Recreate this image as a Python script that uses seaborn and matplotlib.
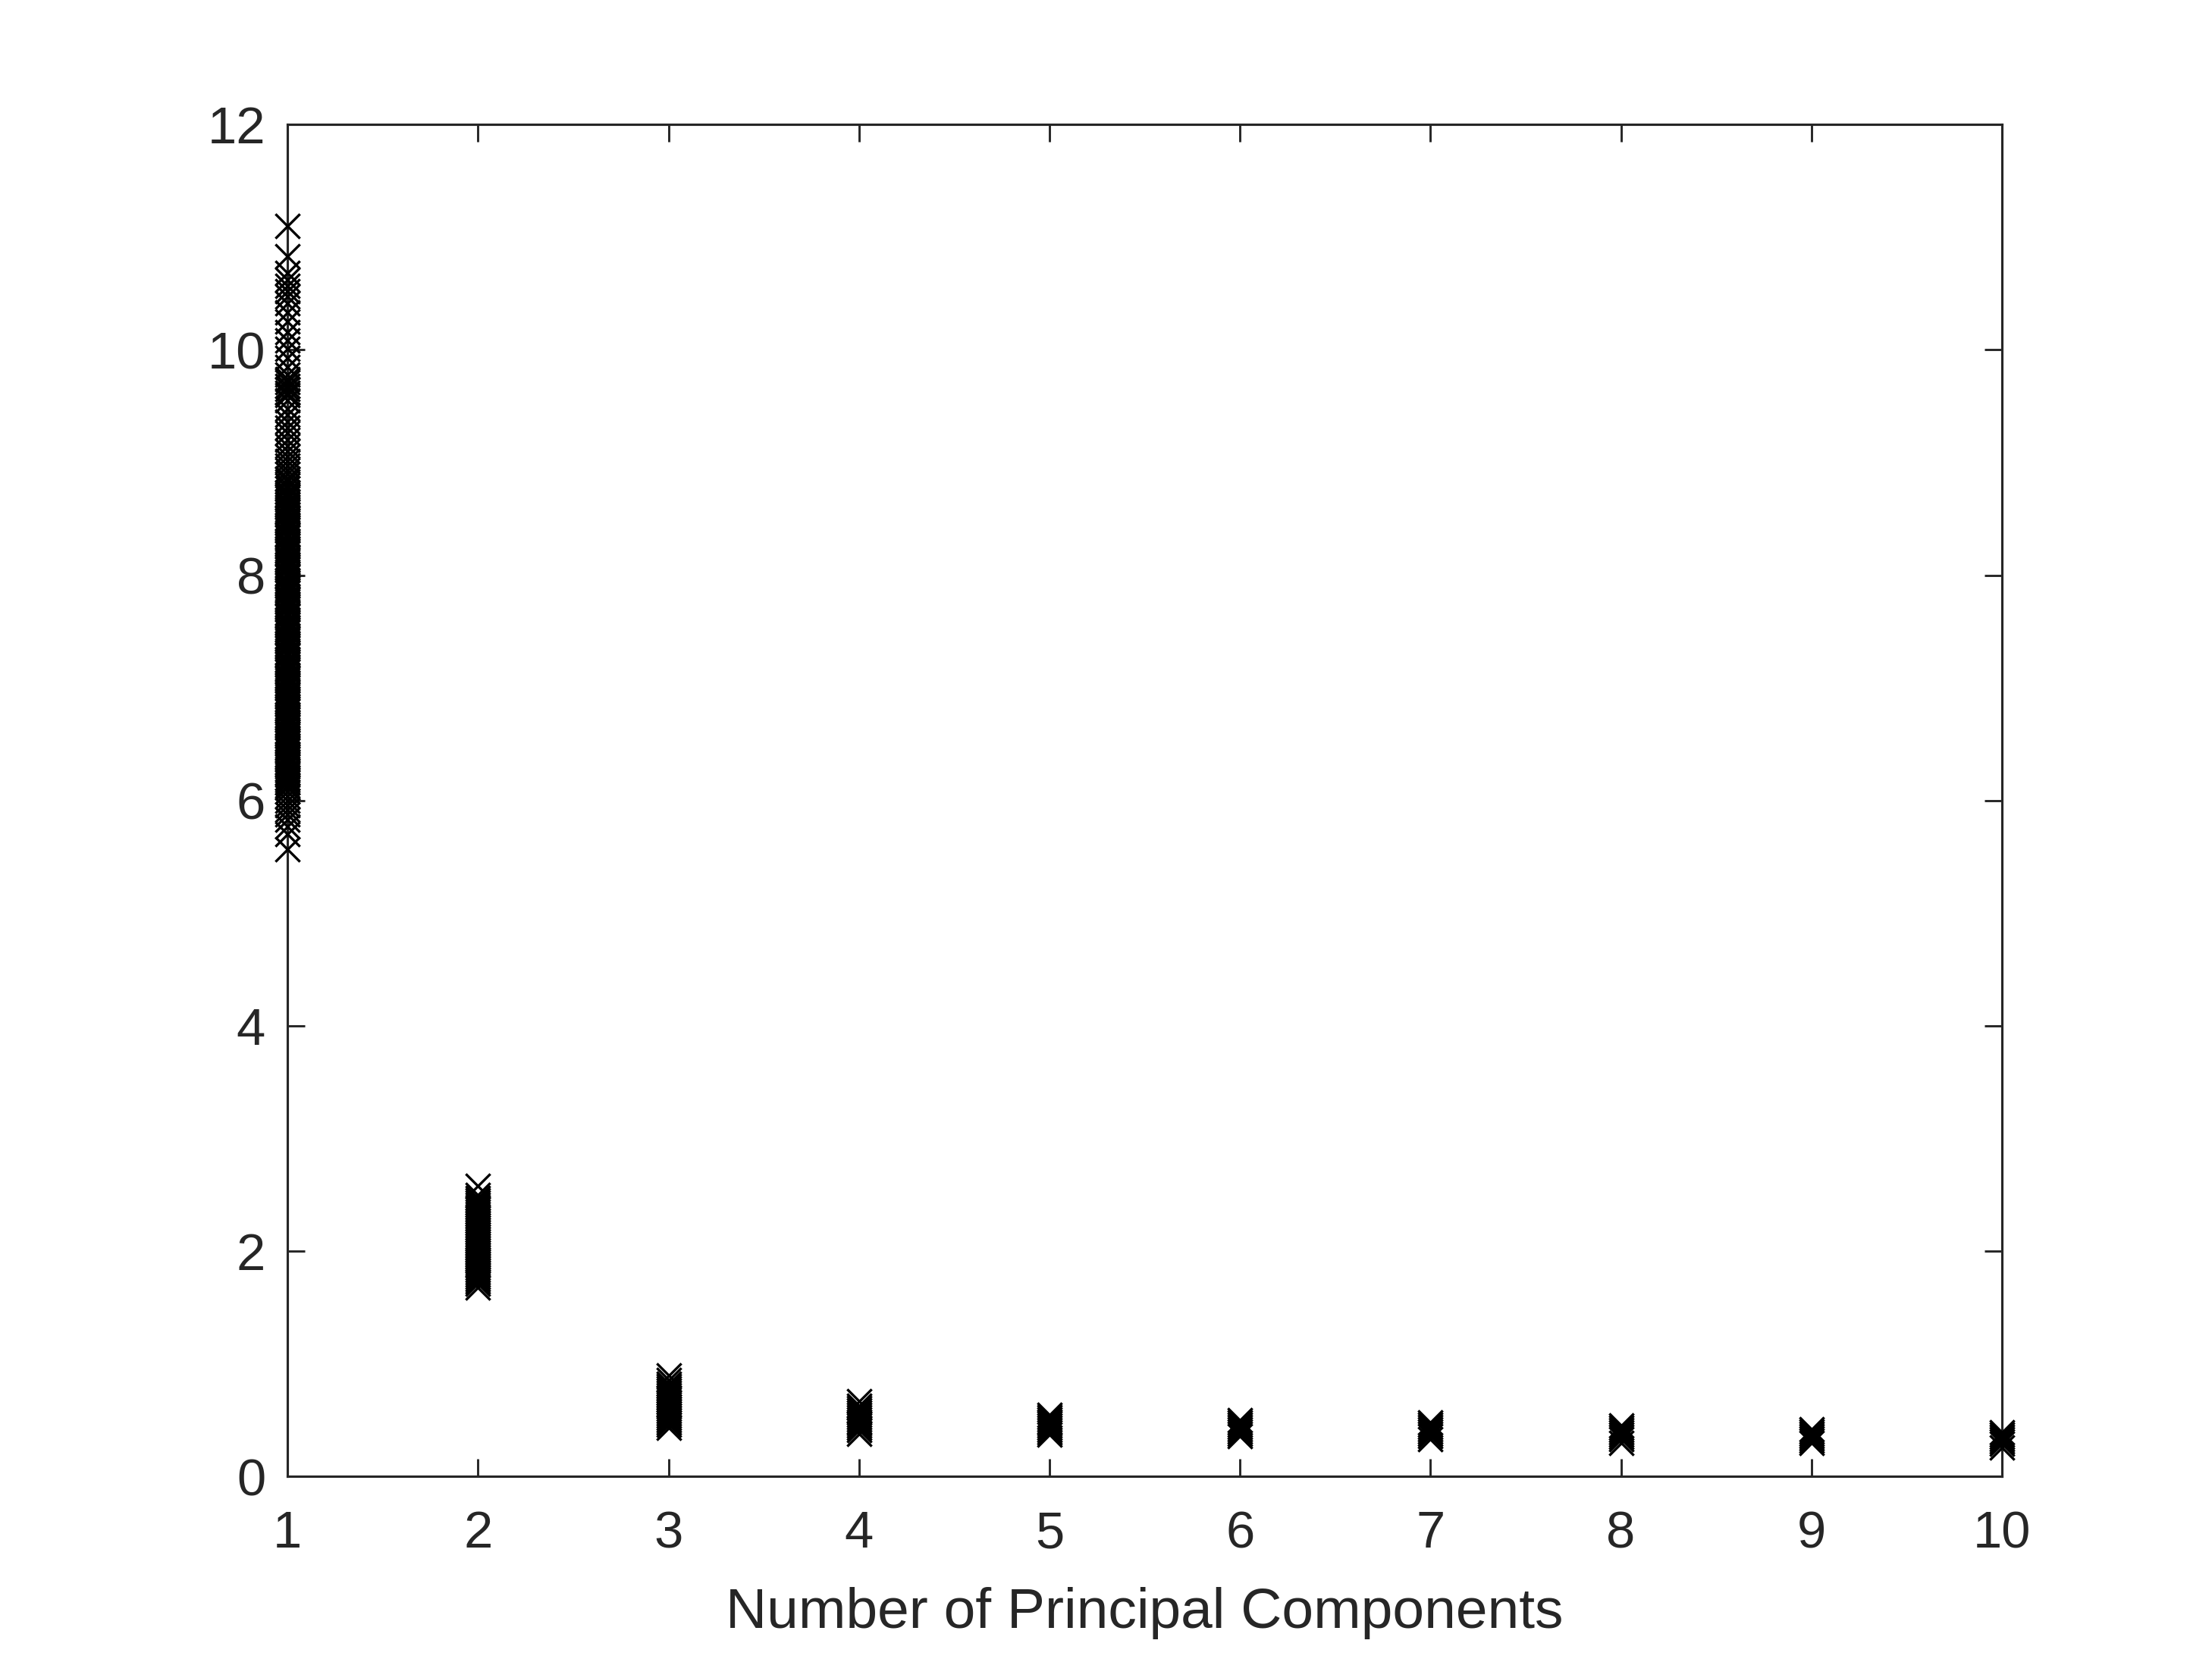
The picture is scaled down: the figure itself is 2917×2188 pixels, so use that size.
# Eigenvalue spread per principal component (scree-style scatter)
import matplotlib

matplotlib.use("Agg")
import matplotlib.pyplot as plt
import numpy as np
import pandas as pd
import seaborn as sns

# %% DATA
pc_labels = [1, 2, 3, 4, 5, 6, 7, 8, 9, 10]

pc1 = [
    11.10, 10.83, 10.68, 10.62, 10.57, 10.52, 10.47, 10.41, 10.33, 10.25,
    10.16, 10.08, 10.01, 9.93, 9.85, 9.78, 9.74, 9.71, 9.68, 9.65, 9.62,
    9.60, 9.55, 9.48, 9.42, 9.36, 9.31, 9.26, 9.20, 9.15, 9.10, 9.05, 9.01,
    8.97, 8.93, 8.90, 8.86, 8.83, 8.80, 8.77, 8.74,
    8.72, 8.70, 8.68, 8.65, 8.63, 8.61, 8.58, 8.56, 8.54, 8.51, 8.49, 8.47,
    8.44, 8.42, 8.40, 8.37, 8.35, 8.33, 8.30, 8.28, 8.26, 8.23, 8.21, 8.19,
    8.16, 8.14, 8.12, 8.09, 8.07, 8.05, 8.02, 8.00, 7.98, 7.95, 7.93, 7.91,
    7.88, 7.86, 7.84, 7.81, 7.79, 7.77, 7.74, 7.72, 7.70, 7.67, 7.65, 7.63,
    7.60, 7.58, 7.56, 7.53, 7.51, 7.49, 7.46, 7.44, 7.42, 7.39, 7.37, 7.35,
    7.32, 7.30, 7.28, 7.25, 7.23, 7.21, 7.18, 7.16, 7.14, 7.11, 7.09, 7.07,
    7.04, 7.02, 7.00, 6.97, 6.95, 6.93, 6.90, 6.88, 6.86, 6.83, 6.81, 6.79,
    6.76, 6.74, 6.72, 6.69, 6.67, 6.65, 6.62, 6.60, 6.58, 6.55, 6.53, 6.51,
    6.48, 6.46, 6.44, 6.41, 6.39, 6.37, 6.34, 6.32, 6.30, 6.27, 6.25, 6.23,
    6.20, 6.18, 6.16, 6.13, 6.11,
    6.08, 6.04, 6.00, 5.96, 5.92, 5.88, 5.83, 5.77, 5.70, 5.57,
]
pc2 = [
    2.58, 2.50, 2.47, 2.45, 2.43, 2.41, 2.39, 2.37, 2.35, 2.33, 2.31, 2.29,
    2.27, 2.25, 2.23, 2.21, 2.19, 2.17, 2.15, 2.13, 2.11, 2.09, 2.07, 2.05,
    2.03, 2.01, 1.99, 1.97, 1.95, 1.93, 1.91, 1.89, 1.87, 1.85, 1.83, 1.81,
    1.79, 1.77, 1.75, 1.73, 1.71, 1.68,
]
pc3 = [
    0.90, 0.86, 0.82, 0.80, 0.78, 0.76, 0.74, 0.72, 0.70, 0.68, 0.66, 0.64,
    0.62, 0.60, 0.58, 0.56, 0.54, 0.52, 0.50, 0.48, 0.46, 0.43,
]
pc4 = [0.67, 0.63, 0.61, 0.59, 0.57, 0.55, 0.53, 0.51, 0.49, 0.47, 0.45, 0.43, 0.41, 0.38]
pc5 = [0.55, 0.53, 0.51, 0.49, 0.47, 0.45, 0.43, 0.41, 0.39, 0.37]
pc6 = [0.50, 0.48, 0.46, 0.44, 0.42, 0.40, 0.38, 0.36]
pc7 = [0.48, 0.46, 0.44, 0.42, 0.40, 0.38, 0.36, 0.33]
pc8 = [0.45, 0.43, 0.41, 0.39, 0.37, 0.35, 0.33, 0.30]
pc9 = [0.42, 0.40, 0.38, 0.36, 0.34, 0.32, 0.30]
pc10 = [0.39, 0.37, 0.35, 0.33, 0.31, 0.29, 0.26]

all_cols = [pc1, pc2, pc3, pc4, pc5, pc6, pc7, pc8, pc9, pc10]
df = pd.DataFrame(
    {
        "pc": np.concatenate([[k] * len(v) for k, v in zip(pc_labels, all_cols)]),
        "value": np.concatenate(all_cols),
    }
)

# %% PLOT
sns.set_style("white")
plt.rcParams["font.family"] = ["Liberation Sans", "DejaVu Sans"]
axis_col = "#262626"

fig = plt.figure(figsize=(2917 / 300, 2188 / 300), dpi=300)
ax = fig.add_axes([0.13, 0.11, 0.775, 0.815])

sns.scatterplot(
    data=df,
    x="pc",
    y="value",
    marker="x",
    color="black",
    s=60,
    linewidth=0.8,
    clip_on=False,
    zorder=3,
    ax=ax,
)

ax.set_xlim(1, 10)
ax.set_ylim(0, 12)
ax.set_xticks(pc_labels)
ax.set_yticks([0, 2, 4, 6, 8, 10, 12])
ax.set_xlabel("Number of Principal Components", fontsize=18, color=axis_col, labelpad=9)
ax.set_ylabel("")

for side in ["top", "bottom", "left", "right"]:
    ax.spines[side].set_visible(True)
    ax.spines[side].set_color(axis_col)
    ax.spines[side].set_linewidth(0.75)

ax.tick_params(
    direction="in", length=5.5, width=0.7, color=axis_col, labelcolor=axis_col,
    labelsize=16.5, top=True, right=True, bottom=True, left=True,
)
ax.tick_params(axis="x", pad=10.5)
ax.tick_params(axis="y", pad=7)

fig.savefig("out.png", dpi=300, facecolor="white")
